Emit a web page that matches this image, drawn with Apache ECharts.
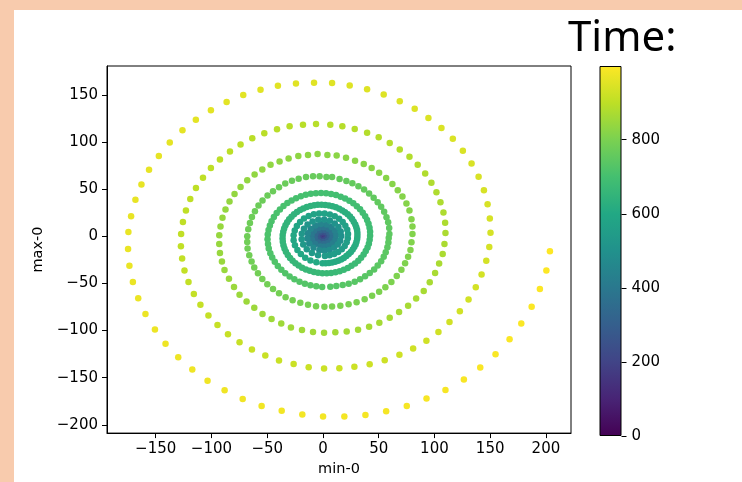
<!DOCTYPE html>
<html>
<head>
<meta charset="utf-8">
<script src="https://cdn.jsdelivr.net/npm/echarts@6.0.0/dist/echarts.min.js"></script>
<style>
html, body { margin: 0; padding: 0; background: #fff; }
#spiral { width: 742px; height: 482px; }
</style>
</head>
<body>
<div id="spiral"></div>
<script>
// [min-0, max-0, time], one array per turn of the spiral
var turnCore = [
  [0.9,1.1,0],[-1.5,0.4,20],
  [0.1,-1.7,39],[1.6,1.1,60],[-1.9,0.9,81],
  [0.2,-2.3,102],[2.5,0.3,118],[-0.4,2.7,134],[-2.9,-0.5,150],
  [0.3,-3.2,165],[3.3,-1.0,177],[2.2,2.8,189],[-1.9,3.3,201],[-4.0,-0.7,213],
  [0.4,-4.4,228],[3.8,-2.5,237],[4.6,1.5,246],[1.8,4.7,255],[-2.7,4.6,264],[-5.4,0.8,273],[-4.2,-4.0,282],
  [0.5,-6.0,291],[4.4,-4.4,298],[6.4,-0.6,305],[5.5,3.8,312],[1.8,6.7,319],[-3.0,6.4,326],[-6.7,3.1,333],[-7.4,-2.0,340],[-4.5,-6.5,347]
];
var turn10 = [
  [0.7,-8.2,354],[4.6,-7.0,359],[7.6,-4.0,364],[8.8,0.1,369],[7.9,4.5,374],[4.9,7.9,379],[0.6,9.5,384],
  [-4.1,8.9,389],[-8.0,5.9,394],[-10.2,1.4,399],[-9.8,-3.7,404],[-7.0,-8.2,409],[-2.3,-10.9,414]
];
var turn9 = [
  [1.0,-11.2,417],[5.3,-10.1,421],[9.1,-7.4,425],[11.4,-3.4,429],[12.0,1.4,433],[10.8,6.1,437],[7.7,9.9,441],[3.3,12.5,445],
  [-1.8,13.0,449],[-6.8,11.5,453],[-11.0,8.1,457],[-13.6,3.3,461],[-14.0,-2.3,465],[-12.3,-7.7,469],[-8.5,-12.1,473],[-3.2,-14.8,477]
];
var turn8 = [
  [1.3,-15.2,480],[5.8,-14.4,483],[10.0,-12.2,486],[13.3,-8.8,489],[15.5,-4.6,492],[16.5,0.2,495],[15.9,5.1,498],
  [13.9,9.8,501],[10.6,13.6,504],[6.2,16.4,507],[1.1,17.8,510],[-4.2,17.5,513],[-9.3,15.7,516],[-13.8,12.5,519],
  [-17.1,8.0,522],[-19.0,2.6,525],[-19.1,-3.1,528],[-17.7,-8.8,531],[-14.5,-13.8,534],[-9.9,-17.7,537],[-4.4,-20.2,540]
];
var turn7 = [
  [1.8,-20.8,543],[6.0,-20.2,545],[10.0,-18.8,547],[13.6,-16.6,549],[16.9,-13.8,551],[19.5,-10.3,553],[21.3,-6.3,555],[22.3,-2.0,557],
  [22.5,2.5,559],[21.8,7.0,561],[20.1,11.3,563],[17.7,15.2,565],[14.5,18.6,567],[10.6,21.3,569],[6.2,23.2,571],[1.5,24.3,573],
  [-3.4,24.3,575],[-8.2,23.4,577],[-12.8,21.5,579],[-17.0,18.8,581],[-20.5,15.1,583],[-23.4,10.9,585],[-25.3,6.1,587],[-26.3,1.0,589],
  [-26.3,-4.3,591],[-25.1,-9.5,593],[-22.9,-14.4,595],[-19.8,-18.9,597],[-15.9,-22.7,599],[-11.2,-25.6,601],[-5.9,-27.6,603],[-0.4,-28.5,605]
];
var turn6 = [
  [2.5,-28.6,606],[5.4,-28.3,607],[8.2,-27.8,608],[11.0,-27.0,609],[13.7,-25.9,610],[16.3,-24.5,611],[18.7,-22.9,612],[21.0,-21.0,613],
  [23.1,-18.9,614],[25.0,-16.6,615],[26.7,-14.1,616],[28.1,-11.4,617],[29.3,-8.6,618],[30.1,-5.7,619],[30.7,-2.7,620],[30.9,0.4,621],
  [30.9,3.5,622],[30.6,6.6,623],[29.9,9.6,624],[29.0,12.6,625],[27.6,15.5,626],[26.1,18.3,627],[24.3,20.9,628],[22.2,23.3,629],
  [19.8,25.5,630],[17.3,27.5,631],[14.6,29.3,632],[11.6,30.7,633],[8.5,31.9,634],[5.4,32.8,635],[2.1,33.2,636],[-1.2,33.5,637],
  [-4.6,33.4,638],[-7.9,32.9,639],[-11.2,32.1,640],[-14.5,31.0,641],[-17.6,29.6,642],[-20.5,27.8,643],[-23.3,25.7,644],[-25.9,23.4,645],
  [-28.2,20.8,646],[-30.3,18.0,647],[-32.1,15.0,648],[-33.6,11.8,649],[-34.8,8.4,650],[-35.6,4.9,651],[-36.1,1.3,652],[-36.2,-2.3,653],
  [-36.0,-5.9,654],[-35.4,-9.5,655],[-34.5,-13.0,656],[-33.2,-16.5,657],[-31.5,-19.8,658],[-29.5,-23.0,659],[-27.2,-25.9,660],[-24.7,-28.7,661],
  [-21.8,-31.1,662],[-18.7,-33.3,663],[-15.3,-35.1,664],[-11.8,-36.6,665],[-8.1,-37.8,666],[-4.4,-38.7,667],[-0.5,-39.1,668]
];
var turn5 = [
  [3.4,-39.2,669],[7.3,-38.8,670],[11.2,-38.1,671],[15.0,-37.0,672],[18.7,-35.5,673],[22.3,-33.6,674],[25.6,-31.3,675],[28.8,-28.8,676],
  [31.7,-25.9,677],[34.2,-22.7,678],[36.5,-19.3,679],[38.4,-15.6,680],[40.0,-11.8,681],[41.2,-7.8,682],[41.9,-3.7,683],[42.3,0.5,684],
  [42.3,4.8,685],[41.8,9.0,686],[40.9,13.2,687],[39.6,17.3,688],[37.9,21.2,689],[35.7,25.0,690],[33.3,28.6,691],[30.4,31.9,692],
  [27.2,35.0,693],[23.7,37.7,694],[19.9,40.1,695],[15.9,42.1,696],[11.7,43.7,697],[7.3,44.8,698],[2.8,45.6,699],[-1.7,45.9,700],
  [-6.3,45.7,701],[-10.9,45.1,702],[-15.4,44.0,703],[-19.8,42.4,704],[-24.1,40.5,705],[-28.1,38.1,706],[-31.9,35.3,707],[-35.4,32.1,708],
  [-38.6,28.5,709],[-41.5,24.7,710],[-44.0,20.5,711],[-46.1,16.1,712],[-47.6,11.5,713],[-48.8,6.7,714],[-49.5,1.8,715],[-49.7,-3.1,716],
  [-49.3,-8.1,717],[-48.6,-13.0,718],[-47.2,-17.9,719],[-45.5,-22.6,720],[-43.2,-27.1,721],[-40.5,-31.5,722],[-37.3,-35.5,723],[-33.8,-39.3,724],
  [-29.9,-42.7,725],[-25.6,-45.6,726],[-21.0,-48.2,727],[-16.2,-50.3,728],[-11.2,-51.9,729],[-6.0,-53.1,730],[-0.7,-53.7,731]
];
var turn4 = [
  [6.6,-53.4,732],[12.0,-52.7,733],[17.7,-51.7,734],[23.1,-50.3,735],[28.5,-48.2,736],[33.3,-45.6,737],[37.8,-42.5,738],[42.0,-39.0,739],
  [45.9,-35.1,740],[49.1,-30.9,741],[52.2,-26.4,742],[54.5,-21.8,743],[56.3,-16.9,744],[57.8,-11.6,745],[58.7,-6.6,746],[59.0,-1.8,747],
  [59.6,2.4,748],[59.4,8.7,749],[58.5,14.8,750],[57.0,20.3,751],[54.9,26.0,752],[52.2,31.3,753],[49.1,36.2,754],[45.5,40.8,755],
  [41.4,45.3,756],[36.9,49.6,757],[31.8,53.0,758],[26.4,56.2,759],[21.0,58.7,760],[14.9,60.8,761],[8.2,62.9,762],
  [3.1,62.9,763],[-3.0,63.6,764],[-8.9,63.6,765],[-15.2,62.9,766],[-21.8,61.2,767],[-27.8,59.0,768],[-33.8,55.9,769],[-39.4,52.0,770],
  [-44.8,47.8,771],[-49.7,43.2,772],[-54.2,38.0,773],[-57.8,32.7,774],[-61.0,26.7,775],[-63.7,20.4,776],[-65.5,14.0,777],[-67.0,7.4,778],[-67.9,0.0,779],
  [-67.9,-6.0,780],[-67.6,-13.0,781],[-66.1,-20.0,782],[-64.0,-26.7,783],[-61.6,-33.0,784],[-58.3,-39.3,785],[-54.4,-45.3,786],[-49.9,-50.9,787],
  [-44.8,-55.9,788],[-39.4,-60.4,789],[-33.5,-64.6,790],[-27.2,-67.8,791],[-20.3,-70.6,792],[-13.4,-72.7,793],[-6.2,-74.1,794],[1.3,-74.8,795]
];
var turn3 = [
  [8.2,-74.5,796],[15.6,-73.8,797],[23.0,-72.0,798],[30.2,-69.9,799],[37.4,-66.7,800],[44.1,-63.2,801],[50.4,-58.7,802],[56.0,-54.0,803],
  [61.4,-48.5,804],[66.2,-42.2,805],[70.4,-35.5,806],[73.7,-28.5,807],[76.4,-21.8,808],[78.5,-14.4,809],[79.4,-6.3,810],
  [80.3,2.4,811],[80.3,10.5,812],[79.4,18.2,813],[77.6,27.4,814],[74.9,34.8,815],[71.3,42.2,816],[67.1,48.8,817],[62.3,55.6,818],
  [56.7,61.9,819],[50.4,67.5,820],[43.7,72.4,821],[36.6,76.6,822],[28.8,80.1,823],[20.7,83.3,824],[12.3,85.7,825],
  [4.0,86.4,826],[-4.8,87.2,827],[-13.4,86.4,828],[-22.1,85.1,829],[-30.8,82.6,830],[-38.9,79.4,831],[-47.0,75.9,832],[-54.4,71.0,833],
  [-61.3,65.7,834],[-67.9,59.4,835],[-73.9,52.4,836],[-79.3,45.0,837],[-83.8,36.9,838],[-87.4,28.5,839],[-90.1,19.7,840],[-91.9,10.5,841],[-93.0,1.1,842],
  [-93.0,-8.1,843],[-92.4,-17.6,844],[-90.6,-26.7,845],[-88.3,-35.8,846],[-84.3,-45.0,847],[-79.8,-53.8,848],[-74.8,-61.9,849],[-68.5,-69.3,850],
  [-61.6,-75.9,851],[-54.2,-82.5,852],[-46.1,-87.8,853],[-37.4,-92.5,854],[-28.7,-96.7,855],[-18.8,-99.4,856],[-8.9,-101.5,857],[1.0,-102.3,858]
];
var turn2 = [
  [11.1,-101.9,859],[21.3,-100.9,860],[31.5,-99.1,861],[41.4,-95.9,862],[50.6,-91.7,863],[59.9,-86.4,864],[68.3,-80.4,865],[76.4,-73.8,866],
  [83.6,-66.1,867],[90.4,-58.0,868],[95.8,-48.8,869],[100.6,-39.0,870],[104.2,-28.8,871],[107.4,-18.7,872],[109.0,-8.1,873],
  [109.9,3.5,874],[109.6,14.4,875],[108.1,25.3,876],[105.4,36.1,877],[101.8,46.7,878],[97.3,56.9,879],[91.7,66.7,880],[85.0,75.9,881],
  [77.6,84.3,882],[68.9,92.0,883],[59.9,99.1,884],[50.0,105.1,885],[39.6,110.0,886],[28.5,113.8,887],[17.4,116.7,888],[6.6,118.4,889],
  [-6.2,119.1,890],[-17.9,118.4,891],[-29.9,116.7,892],[-41.2,113.5,893],[-52.6,109.3,894],[-63.4,104.0,895],[-73.9,97.3,896],[-83.4,89.9,897],
  [-92.4,81.5,898],[-100.5,72.4,899],[-107.6,62.2,900],[-113.9,51.3,901],[-119.0,39.7,902],[-122.9,27.4,903],[-125.6,15.1,904],[-127.2,2.4,905],
  [-127.4,-10.5,906],[-126.3,-23.5,907],[-124.2,-36.2,908],[-120.6,-48.5,909],[-115.8,-61.1,910],[-109.9,-72.7,911],[-102.7,-84.0,912],[-94.6,-94.1,913],
  [-85.2,-104.0,914],[-74.8,-112.4,915],[-63.7,-120.1,916],[-51.7,-126.5,917],[-39.4,-131.7,918],[-26.3,-135.6,919],[-12.8,-138.8,920],[1.0,-140.2,921]
];
var turn1 = [
  [14.7,-139.9,922],[28.2,-138.4,923],[41.9,-135.7,924],[55.4,-131.5,925],[68.6,-125.8,926],[80.9,-119.1,927],[92.8,-110.7,928],[103.6,-101.5,929],
  [113.5,-91.0,930],[122.8,-79.4,931],[130.6,-67.1,932],[137.1,-54.1,933],[142.3,-40.4,934],[146.5,-26.0,935],[149.2,-11.3,936],
  [150.3,3.9,937],[149.7,19.0,938],[147.7,34.1,939],[144.4,48.8,940],[139.6,63.3,941],[133.3,77.3,942],[125.5,90.7,943],[116.5,103.6,944],
  [106.3,114.9,945],[94.6,125.4,946],[82.3,135.3,947],[68.9,143.4,948],[54.5,150.5,949],[39.6,156.1,950],[24.0,160.0,951],[8.2,162.7,952],
  [-8.0,163.0,953],[-24.2,162.2,954],[-40.4,159.8,955],[-56.0,155.6,956],[-71.5,149.9,957],[-86.4,142.6,958],[-100.5,133.8,959],[-114.0,123.6,960],
  [-126.0,112.4,961],[-137.4,99.4,962],[-147.2,85.3,963],[-156.0,70.6,964],[-162.8,55.1,965],[-168.2,38.7,966],[-172.1,21.4,967],[-174.5,4.5,968],
  [-174.8,-13.4,969],[-173.6,-31.3,970],[-170.5,-48.5,971],[-165.7,-65.7,972],[-159.2,-82.5,973],[-150.7,-98.8,974],[-141.2,-113.9,975],[-129.8,-128.3,976],
  [-117.2,-141.3,977],[-103.5,-153.2,978],[-88.2,-163.4,979],[-72.0,-172.6,980],[-55.0,-180.0,981],[-37.0,-185.2,982],[-18.5,-189.0,983],[0.1,-191.1,984]
];
var turnLast = [
  [19.2,-191.1,985],[38.1,-189.5,986],[56.7,-185.5,987],[75.2,-180.0,988],[92.9,-172.2,989],[109.9,-163.1,990],[126.4,-151.8,991],[141.1,-139.2,992],
  [154.8,-125.1,993],[167.4,-109.3,994],[177.9,-92.4,995],[187.2,-74.8,996],[194.6,-55.9,997],[200.4,-36.2,998],[203.6,-15.8,999]
];

var xTicks = [-150, -100, -50, 0, 50, 100, 150, 200];
var yTicks = [-200, -150, -100, -50, 0, 50, 100, 150];
var timeTicks = [0, 200, 400, 600, 800];
var timeMax = 999;
var viridis = ['#440154', '#482475', '#414487', '#355f8d', '#2a788e', '#21918c',
               '#22a884', '#44bf70', '#7ad151', '#bddf26', '#fde725'];

var points = [].concat(turnCore, turn10, turn9, turn8, turn7, turn6, turn5,
                       turn4, turn3, turn2, turn1, turnLast);

function minus(v) { return String(v).replace('-', '\u2212'); }

var tickFont = { color: '#000', fontSize: 15, fontFamily: 'DejaVu Sans' };

var chart = echarts.init(document.getElementById('spiral'));
var option = {
  animation: false,
  backgroundColor: '#fff',
  graphic: [
    { type: 'rect', left: 0, top: 0, shape: { width: 742, height: 10 }, style: { fill: '#f8cbad' } },
    { type: 'rect', left: 0, top: 0, shape: { width: 14, height: 482 }, style: { fill: '#f8cbad' } }
  ],
  title: {
    text: 'Time:', left: 568, top: 18, padding: 0,
    textStyle: { fontFamily: 'Noto Sans', fontSize: 42, fontWeight: 'normal', color: '#000' }
  },
  grid: [
    { left: 107, top: 66, width: 464, height: 371, show: true, borderColor: '#000', borderWidth: 1, backgroundColor: 'transparent' },
    { left: 599.5, top: 66, width: 22, height: 370 }
  ],
  xAxis: [{
    type: 'value', gridIndex: 0, min: -193.7, max: 222.5,
    name: 'min-0', nameLocation: 'middle', nameGap: 24,
    nameTextStyle: { color: '#000', fontSize: 14.5, fontFamily: 'DejaVu Sans' },
    axisLine: { onZero: false, lineStyle: { color: '#000', width: 1 } },
    axisTick: { length: 5, lineStyle: { color: '#000' }, customValues: xTicks },
    axisLabel: Object.assign({ margin: 9, customValues: xTicks, formatter: minus }, tickFont),
    splitLine: { show: false }
  }, {
    type: 'category', gridIndex: 1, data: ['t'], show: false
  }],
  yAxis: [{
    type: 'value', gridIndex: 0, min: -208.8, max: 180.7,
    name: 'max-0', nameLocation: 'middle', nameGap: 60,
    nameTextStyle: { color: '#000', fontSize: 14.5, fontFamily: 'DejaVu Sans' },
    axisLine: { onZero: false, lineStyle: { color: '#000', width: 1 } },
    axisTick: { length: 5, lineStyle: { color: '#000' }, customValues: yTicks },
    axisLabel: Object.assign({ margin: 9, customValues: yTicks, formatter: minus }, tickFont),
    splitLine: { show: false }
  }, {
    type: 'value', gridIndex: 1, position: 'right', min: 0, max: timeMax,
    axisLine: { show: false },
    axisTick: { show: true, length: 5, lineStyle: { color: '#000' }, customValues: timeTicks },
    axisLabel: Object.assign({ margin: 10, customValues: timeTicks }, tickFont),
    splitLine: { show: false }
  }],
  visualMap: {
    type: 'continuous', show: false, seriesIndex: 0, dimension: 2,
    min: 0, max: timeMax, inRange: { color: viridis }
  },
  series: [{
    type: 'scatter', xAxisIndex: 0, yAxisIndex: 0,
    symbolSize: 6.5, data: points, silent: true,
    itemStyle: { opacity: 1 }
  }, {
    type: 'bar', xAxisIndex: 1, yAxisIndex: 1, data: [timeMax],
    barWidth: '100%', silent: true,
    itemStyle: {
      borderColor: '#000', borderWidth: 1,
      color: new echarts.graphic.LinearGradient(0, 1, 0, 0,
        viridis.map(function (c, i) { return { offset: i / (viridis.length - 1), color: c }; }))
    }
  }]
};
chart.setOption(option);
</script>
</body>
</html>
